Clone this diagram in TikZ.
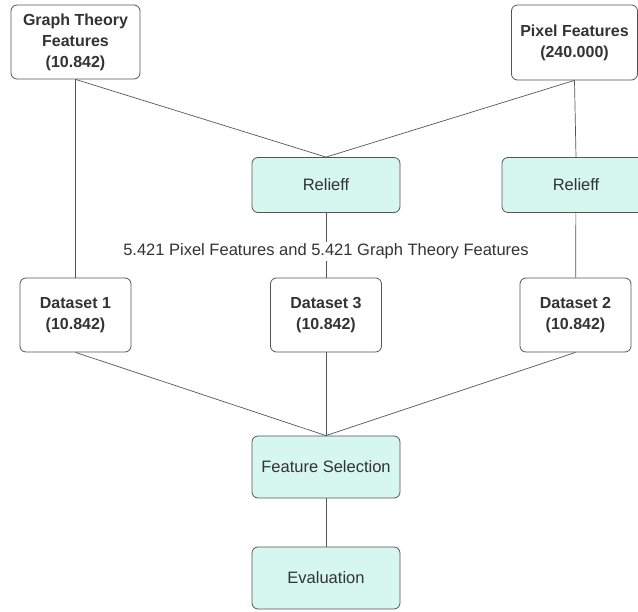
\documentclass[tikz,border=0pt]{standalone}
\usepackage{fontspec}
\setmainfont{Liberation Sans}

\definecolor{boxline}{RGB}{85,85,85}
\definecolor{boxtext}{RGB}{51,51,51}
\definecolor{stepfill}{RGB}{214,246,240}

\tikzstyle{box}=[rectangle,rounded corners=6pt,draw=boxline,line width=0.8pt,fill=white,inner sep=0pt,align=center,text=boxtext,font=\fontsize{16.5}{21}\selectfont]
\tikzstyle{data}=[box,font=\bfseries\fontsize{16}{21}\selectfont]
\tikzstyle{stage}=[box,fill=stepfill]
\tikzstyle{edgeStyle}=[boxline,line width=0.7pt]

\begin{document}
\begin{tikzpicture}[x=1pt, y=-1pt]

	\useasboundingbox (0,0) rectangle (638,612);

	% Obere Reihe
	\node(gt) at (75.5,42) [data, minimum width=129, minimum height=74] {Graph Theory\\Features\\(10.842)};
	\node(px) at (574.5,42.5) [data, minimum width=126, minimum height=75] {Pixel Features\\(240.000)};

	% Relieff
	\node(r1) at (326,185) [stage, minimum width=148, minimum height=55] {Relieff};
	\node(r2) at (576,185) [stage, minimum width=148, minimum height=55] {Relieff};

	% Datensaetze
	\node(d1) at (75.5,315) [data, minimum width=111, minimum height=74] {Dataset 1\\(10.842)};
	\node(d3) at (326,315) [data, minimum width=111, minimum height=74] {Dataset 3\\(10.842)};
	\node(d2) at (575.5,315) [data, minimum width=111, minimum height=74] {Dataset 2\\(10.842)};

	% Untere Reihe
	\node(fs) at (326,467) [stage, minimum width=148, minimum height=62] {Feature Selection};
	\node(ev) at (326,578) [stage, minimum width=148, minimum height=62] {Evaluation};

	\draw[edgeStyle] (gt) -- (d1);
	\draw[edgeStyle] (gt.south) -- (r1.north);
	\draw[edgeStyle] (px.south) -- (r1.north);
	\draw[edgeStyle] (px.south) -- (r2.north);
	\draw[edgeStyle] (r2) -- (d2);
	\draw[edgeStyle] (r1) -- node[pos=0.6, fill=white, inner sep=2pt, text=boxtext, font=\fontsize{16.5}{21}\selectfont](mix){5.421 Pixel Features and 5.421 Graph Theory Features} (d3);

	\draw[edgeStyle] (d1.south) -- (fs.north);
	\draw[edgeStyle] (d3.south) -- (fs.north);
	\draw[edgeStyle] (d2.south) -- (fs.north);
	\draw[edgeStyle] (fs) -- (ev);

\end{tikzpicture}
\end{document}
